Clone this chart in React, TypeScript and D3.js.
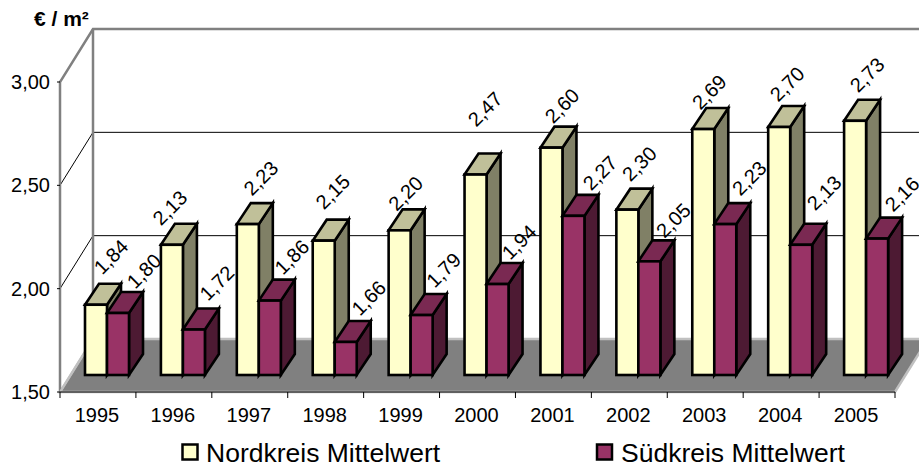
import React from 'react';
import * as d3 from 'd3';

const width = 919;
const height = 466;

const years = ['1995', '1996', '1997', '1998', '1999', '2000', '2001', '2002', '2003', '2004', '2005'];
const nordValues = [1.84, 2.13, 2.23, 2.15, 2.2, 2.47, 2.6, 2.3, 2.69, 2.7, 2.73];
const suedValues = [1.8, 1.72, 1.86, 1.66, 1.79, 1.94, 2.27, 2.05, 2.23, 2.13, 2.16];
const yTicks = [1.5, 2, 2.5, 3];

// labels were placed by hand in the original, so each one has its own offset from the bar top
const nordLabelDx = [15, -2, 13, 9, 6, 9.5, 10.5, 12, 6, 8, 12];
const nordLabelDy = [-48, -37, -46, -49, -37, -65.5, -42, -46, -37, -43, -46];
const suedLabelDx = [26, 23, 22, 23, 22, 21.5, 26.5, 24, 24, 23, 25];
const suedLabelDy = [-42, -46.5, -43.6, -44, -45, -42, -43, -41, -46, -52, -44.6];

const font = '"Liberation Sans", Arial, sans-serif';
const comma = (v: number) => d3.format('.2f')(v).replace('.', ',');

// 3d offsets: wall depth, bar front plane, bar depth
const wallDx = 33;
const wallDy = -53;
const barShiftY = -17;
const barDx = 14;
const barDy = -21;
const barW = 22;
const barInset = 25;

const x = d3.scaleBand<string>().domain(years).range([60, 895]);
const y = d3.scaleLinear().domain([1.5, 3]).range([392, 82]);

const poly = d3.line();

function Bar({ left, top, bottom, front, cap, side }: any) {
  const r = left + barW;
  return (
    <g stroke="#000" strokeWidth={2.6} strokeLinejoin="miter">
      <path d={poly([[r, top], [r + barDx, top + barDy], [r + barDx, bottom + barDy], [r, bottom]])! + 'Z'} fill={side} />
      <path d={poly([[left, top], [left + barDx, top + barDy], [r + barDx, top + barDy], [r, top]])! + 'Z'} fill={cap} />
      <rect x={left} y={top} width={barW} height={bottom - top} fill={front} />
    </g>
  );
}

function ValueLabel({ cx, cy, text }: { cx: number; cy: number; text: string }) {
  return (
    <text
      transform={`translate(${cx},${cy}) rotate(-45)`}
      textAnchor="middle"
      dominantBaseline="central"
      fontSize={20}
      fontFamily={font}
      fill="#000"
    >
      {text}
    </text>
  );
}

export default function App() {
  const base = y(1.5);
  const xStart = 60;
  const xEnd = 895;

  return (
    <svg
      width={width}
      height={height}
      style={{ position: 'absolute', left: 0, top: 0, background: '#fff' }}
    >
      {/* floor */}
      <path
        d={poly([[xStart, base], [xEnd, base], [xEnd + wallDx, base + wallDy], [xStart + wallDx, base + wallDy]])! + 'Z'}
        fill="#808080"
        stroke="#c0c0c0"
        strokeWidth={2.5}
      />

      {/* gridlines */}
      {yTicks.slice(1, 3).map(t => (
        <g key={t} stroke="#000" strokeWidth={1} fill="none">
          <line x1={xStart} y1={y(t)} x2={xStart + wallDx} y2={y(t) + wallDy} />
          <line x1={xStart + wallDx} y1={y(t) + wallDy} x2={width} y2={y(t) + wallDy} />
        </g>
      ))}

      {/* walls */}
      <path
        d={poly([[xStart, base], [xStart, y(3)], [xStart + wallDx, y(3) + wallDy], [width, y(3) + wallDy]])!}
        fill="none"
        stroke="#808080"
        strokeWidth={2.5}
      />
      <line x1={xStart + wallDx} y1={y(3) + wallDy} x2={xStart + wallDx} y2={base + wallDy} stroke="#808080" strokeWidth={2.5} />
      <line x1={xStart} y1={base} x2={xStart + wallDx} y2={base + wallDy} stroke="#c0c0c0" strokeWidth={2} />

      {/* bars */}
      {years.map((yr, i) => {
        const left = x(yr)! + barInset;
        const bottom = base + barShiftY;
        return (
          <g key={yr}>
            <Bar left={left} top={y(nordValues[i]) + barShiftY} bottom={bottom} front="#ffffcc" cap="#c0c099" side="#808066" />
            <Bar left={left + barW} top={y(suedValues[i]) + barShiftY} bottom={bottom} front="#993366" cap="#7a2952" side="#4d1a33" />
          </g>
        );
      })}

      {/* axes */}
      <line x1={xStart} y1={base} x2={xEnd} y2={base} stroke="#000" strokeWidth={1} />
      {years.map(yr => (
        <line key={yr} x1={x(yr)!} y1={base} x2={x(yr)!} y2={base + 6} stroke="#000" />
      ))}
      <line x1={xEnd} y1={base} x2={xEnd} y2={base + 6} stroke="#000" />
      {yTicks.map(t => (
        <g key={t}>
          <line x1={xStart - 3} y1={y(t)} x2={xStart} y2={y(t)} stroke="#000" />
          <text x={50} y={y(t) + 7} textAnchor="end" fontSize={20} fontFamily={font}>{comma(t)}</text>
        </g>
      ))}
      {years.map(yr => (
        <text key={yr} x={x(yr)! + x.bandwidth() / 2 - 1} y={422} textAnchor="middle" fontSize={20} fontFamily={font}>{yr}</text>
      ))}

      {/* value labels */}
      {years.map((yr, i) => {
        const left = x(yr)! + barInset;
        return (
          <g key={yr}>
            <ValueLabel
              cx={left + barW / 2 + nordLabelDx[i]}
              cy={y(nordValues[i]) + barShiftY + nordLabelDy[i]}
              text={comma(nordValues[i])}
            />
            <ValueLabel
              cx={left + barW * 1.5 + suedLabelDx[i]}
              cy={y(suedValues[i]) + barShiftY + suedLabelDy[i]}
              text={comma(suedValues[i])}
            />
          </g>
        );
      })}

      <text x={34} y={26} fontSize={21} fontWeight="bold" fontFamily={font}>€ / m²</text>

      {/* legend */}
      <rect x={182.5} y={444.5} width={15} height={15} fill="#ffffcc" stroke="#000" strokeWidth={2.5} />
      <text x={206} y={462} fontSize={26.5} fontFamily={font}>Nordkreis Mittelwert</text>
      <rect x={597} y={444.5} width={15} height={15} fill="#993366" stroke="#000" strokeWidth={2.5} />
      <text x={621} y={462} fontSize={26.5} fontFamily={font}>Südkreis Mittelwert</text>
    </svg>
  );
}
